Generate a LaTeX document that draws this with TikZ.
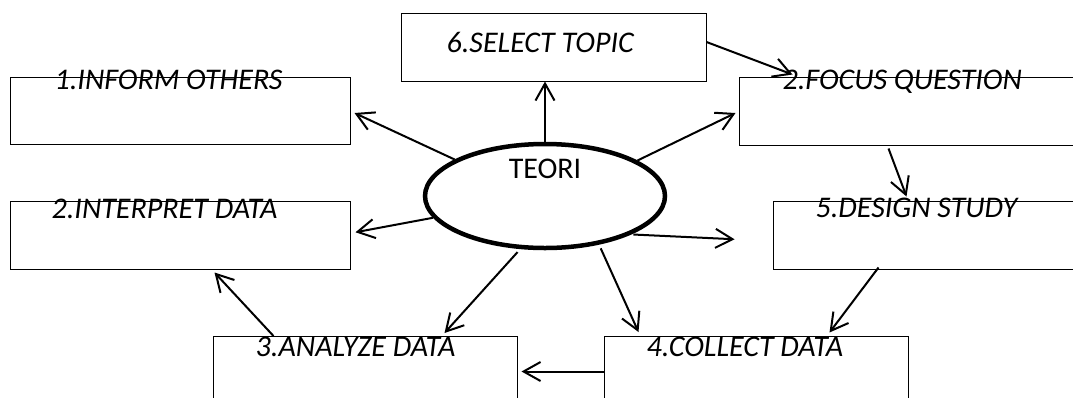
\documentclass[tikz,border=0pt]{standalone}
\usepackage{fontspec}
\setmainfont{Carlito}
\usetikzlibrary{arrows.meta,shapes.geometric,calc}
\begin{document}
\begin{tikzpicture}[x=1pt,y=-1pt,
  box/.style={draw, line width=1pt, rectangle, inner sep=0pt},
  lbl/.style={inner sep=0pt, anchor=base west, font=\fontsize{30}{35}\selectfont\itshape},
  arr/.style={line width=2pt, -{Straight Barb[length=17pt,width=19pt]}},
]
\useasboundingbox (0,0) rectangle (1073,397);
\clip (0,0) rectangle (1073,397);
% boxes
\node[box, minimum width=305pt, minimum height=68pt] (select) at (553.5,47) {};
\node[box, minimum width=340pt, minimum height=67pt] (inform) at (180,110.5) {};
\node[box, minimum width=340pt, minimum height=67.5pt] (interpret) at (180,235.25) {};
\node[box, minimum width=351pt, minimum height=68pt] (focus) at (914.5,111) {};
\node[box, minimum width=317pt, minimum height=67.5pt] (design) at (931.5,235.25) {};
\node[box, minimum width=304pt, minimum height=78.5pt] (analyze) at (365,375.75) {};
\node[box, minimum width=304pt, minimum height=78.5pt] (collect) at (756,375.75) {};
% labels
\node[lbl] (t6) at ($(select.north west)+(46,40)$) {6.SELECT TOPIC};
\node[lbl] (t1) at ($(inform.north west)+(45,13)$) {1.INFORM OTHERS};
\node[lbl] (t2a) at ($(interpret.north west)+(42,17.5)$) {2.INTERPRET DATA};
\node[lbl] (t2b) at ($(focus.north west)+(44,13)$) {2.FOCUS QUESTION};
\node[lbl] (t5) at ($(design.north west)+(43,16.5)$) {5.DESIGN STUDY};
\node[lbl] (t3) at ($(analyze.north west)+(43,20.5)$) {3.ANALYZE DATA};
\node[lbl] (t4) at ($(collect.north west)+(43,20.5)$) {4.COLLECT DATA};
% ellipse
\node[draw, ellipse, line width=4.5pt, minimum width=240pt, minimum height=104pt, inner sep=0pt] (teori) at (545,196) {};
\node[inner sep=0pt, anchor=base, font=\fontsize{30}{35}\selectfont] (teoritxt) at (545,178) {TEORI};
% arrows
\draw[arr] (teori.north) -- (teori.north |- select.south);
\draw[arr] (teori.158) -- ($(inform.east)+(4,2.5)$);
\draw[arr] (teori.21) -- ($(focus.west)+(-3,2)$);
\draw[arr] (teori.191) -- ($(interpret.east)+(5,-3)$);
\coordinate (dfree) at ($(design.west)+(-38,4)$);
\draw[arr, shorten <=2pt] (teori.336) -- (dfree);
\draw[arr, shorten <=4pt] (teori.245) -- ($(analyze.north west)+(232,-3)$);
\draw[arr, shorten <=4pt] (teori.318) -- ($(collect.north west)+(35,-4)$);
\draw[arr] ($(select.east)+(0,-5)$) -- ($(focus.north west)+(54,-2)$);
\draw[arr] ($(focus.south west)+(150,3)$) -- ($(design.north west)+(134,-4.5)$);
\draw[arr] ($(design.south west)+(106,-2)$) -- ($(collect.north west)+(226,-3.5)$);
\draw[arr] ($(collect.north west)+(0,35.5)$) -- ($(analyze.north east)+(4,35.5)$);
\draw[arr] ($(analyze.north west)+(61,0)$) -- ($(interpret.south west)+(205,3)$);
\end{tikzpicture}
\end{document}
